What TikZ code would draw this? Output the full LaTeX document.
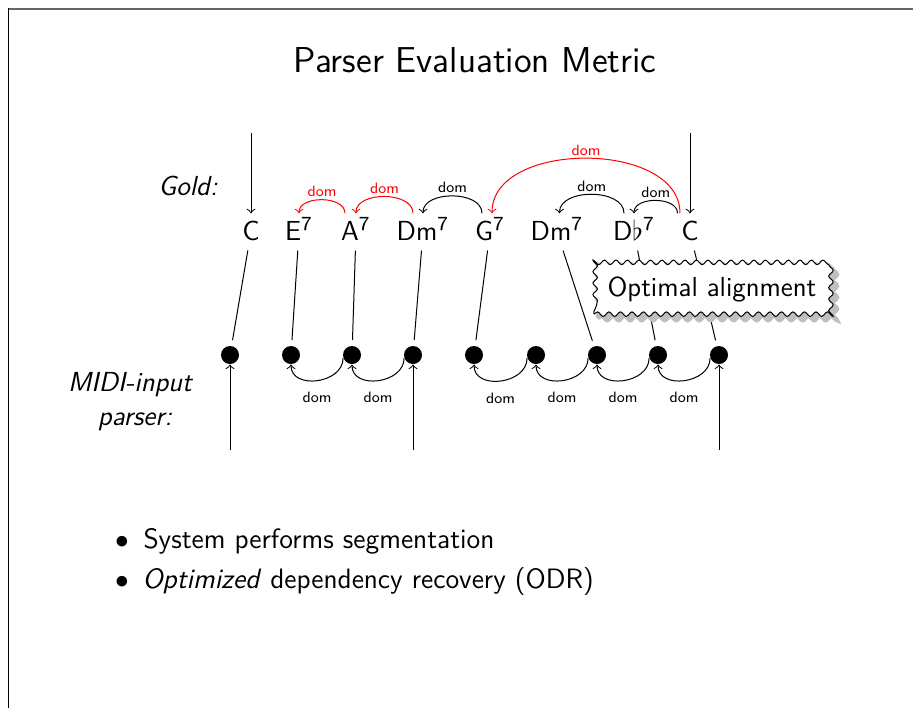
\documentclass[tikz,border=0pt]{standalone}
\usetikzlibrary{decorations.pathmorphing}
\begin{document}
\begin{tikzpicture}[x=0.4pt,y=-0.4pt,
  every node/.style={font=\sffamily\fontsize{11}{13.6}\selectfont},
  chord/.style={anchor=base, text height=8.5pt, text depth=2pt, inner sep=2pt},
  dot/.style={circle, fill=black, minimum size=7.2pt, inner sep=0pt},
  domlbl/.style={font=\sffamily\fontsize{6}{7}\selectfont, inner sep=1pt},
  dep/.style={->},
  align line/.style={shorten >=2.2pt},
  label/.style={anchor=base, font=\sffamily\itshape\fontsize{11}{13.6}\selectfont},
  item/.style={anchor=base west, inner sep=0pt, font=\sffamily\fontsize{11.2}{13.6}\selectfont},
  wavybox/.style={decorate, decoration={snake, amplitude=0.9pt, segment length=4.6pt},
    inner xsep=5.5pt, inner ysep=5pt},
]
\useasboundingbox (0,0) rectangle (913,708);

% slide frame edges
\draw[black!60, line width=0.8pt] (8,8.5) -- (913,8.5);
\draw[black, line width=0.4pt] (8,8) -- (8,708);

% title
\node[anchor=base, font=\sffamily\fontsize{14.4}{17}\selectfont] (title) at (475,72) {Parser Evaluation Metric};

% row labels
\node[label] (gold) at (188,195) {Gold:};
\node[label] (midi1) at (130,391) {MIDI-input};
\node[label] (midi2) at (135,425) {parser:};

% gold chord sequence
\node[chord] (c1) at (251,240) {C};
\node[chord] (c2) at (299,240) {E$^{\mathsf{7}}$};
\node[chord] (c3) at (356,240) {A$^{\mathsf{7}}$};
\node[chord] (c4) at (423,240) {Dm$^{\mathsf{7}}$};
\node[chord] (c5) at (490,240) {G$^{\mathsf{7}}$};
\node[chord] (c6) at (557,240) {Dm$^{\mathsf{7}}$};
\node[chord] (c7) at (634,240) {D$\flat^{\mathsf{7}}$};
\node[chord] (c8) at (690,240) {C};

% parser segments
\foreach \i/\x in {1/230,2/291,3/352,4/413,5/474,6/536,7/597,8/658,9/719}
  \node[dot] (d\i) at (\x,355) {};

% incoming arrows
\coordinate (tin1) at (251,133);
\coordinate (tin2) at (690,133);
\draw[->] (tin1) -- (c1.north);
\draw[->] (tin2) -- (c8.north);
\coordinate (bin1) at (230,450);
\coordinate (bin2) at (413,450);
\coordinate (bin3) at (719,450);
\draw[->] (bin1) -- (d1.south);
\draw[->] (bin2) -- (d4.south);
\draw[->] (bin3) -- (d9.south);

% gold dependencies
\draw[dep, red] ([xshift=-4.4pt]c3.north) to[out=90,in=90] node[domlbl, above, text=red] {dom} (c2.north);
\draw[dep, red] ([xshift=-4pt]c4.north) to[out=90,in=90] node[domlbl, above, text=red] {dom} (c3.north);
\draw[dep] ([xshift=-3.2pt]c5.north) to[out=90,in=90] node[domlbl, above] {dom} (c4.north);
\draw[dep, red] ([xshift=-4pt]c8.north) to[out=90,in=90] node[domlbl, above, text=red] {dom} ([xshift=0.8pt]c5.north);
\draw[dep] ([xshift=-4pt]c7.north) to[out=90,in=90] node[domlbl, above] {dom} ([xshift=1pt]c6.north);
\draw[dep] ([xshift=-5pt]c8.north) to[out=90,in=90] node[domlbl, above] {dom} (c7.north);

% parser dependencies
\foreach \a/\b in {3/2,4/3,6/5,7/6,8/7,9/8}
  \draw[dep] (d\a.200) to[out=-90,in=-90,looseness=1.25] node[domlbl, below, yshift=-3.5pt] {dom} (d\b.south);

% alignment
\foreach \i/\j in {1/1,2/2,3/3,4/4,5/5,6/7,7/8,8/9}
  \draw[align line] (c\i) -- (d\j);

% callout with its shadow
\node[wavybox, fill=black!25, draw=black!25, line width=1.6pt] (optshadow) at (716,293) {\phantom{Optimal alignment}};
\node[wavybox, draw, fill=white] (opt) at (712,289) {Optimal alignment};

% bullet list
\node[anchor=base] (b1) at (122,548) {$\bullet$};
\node[item] (t1) at (143,548) {System performs segmentation};
\node[anchor=base] (b2) at (122,588) {$\bullet$};
\node[item] (t2) at (142,588) {\textit{Optimized} dependency recovery (ODR)};
\end{tikzpicture}
\end{document}
